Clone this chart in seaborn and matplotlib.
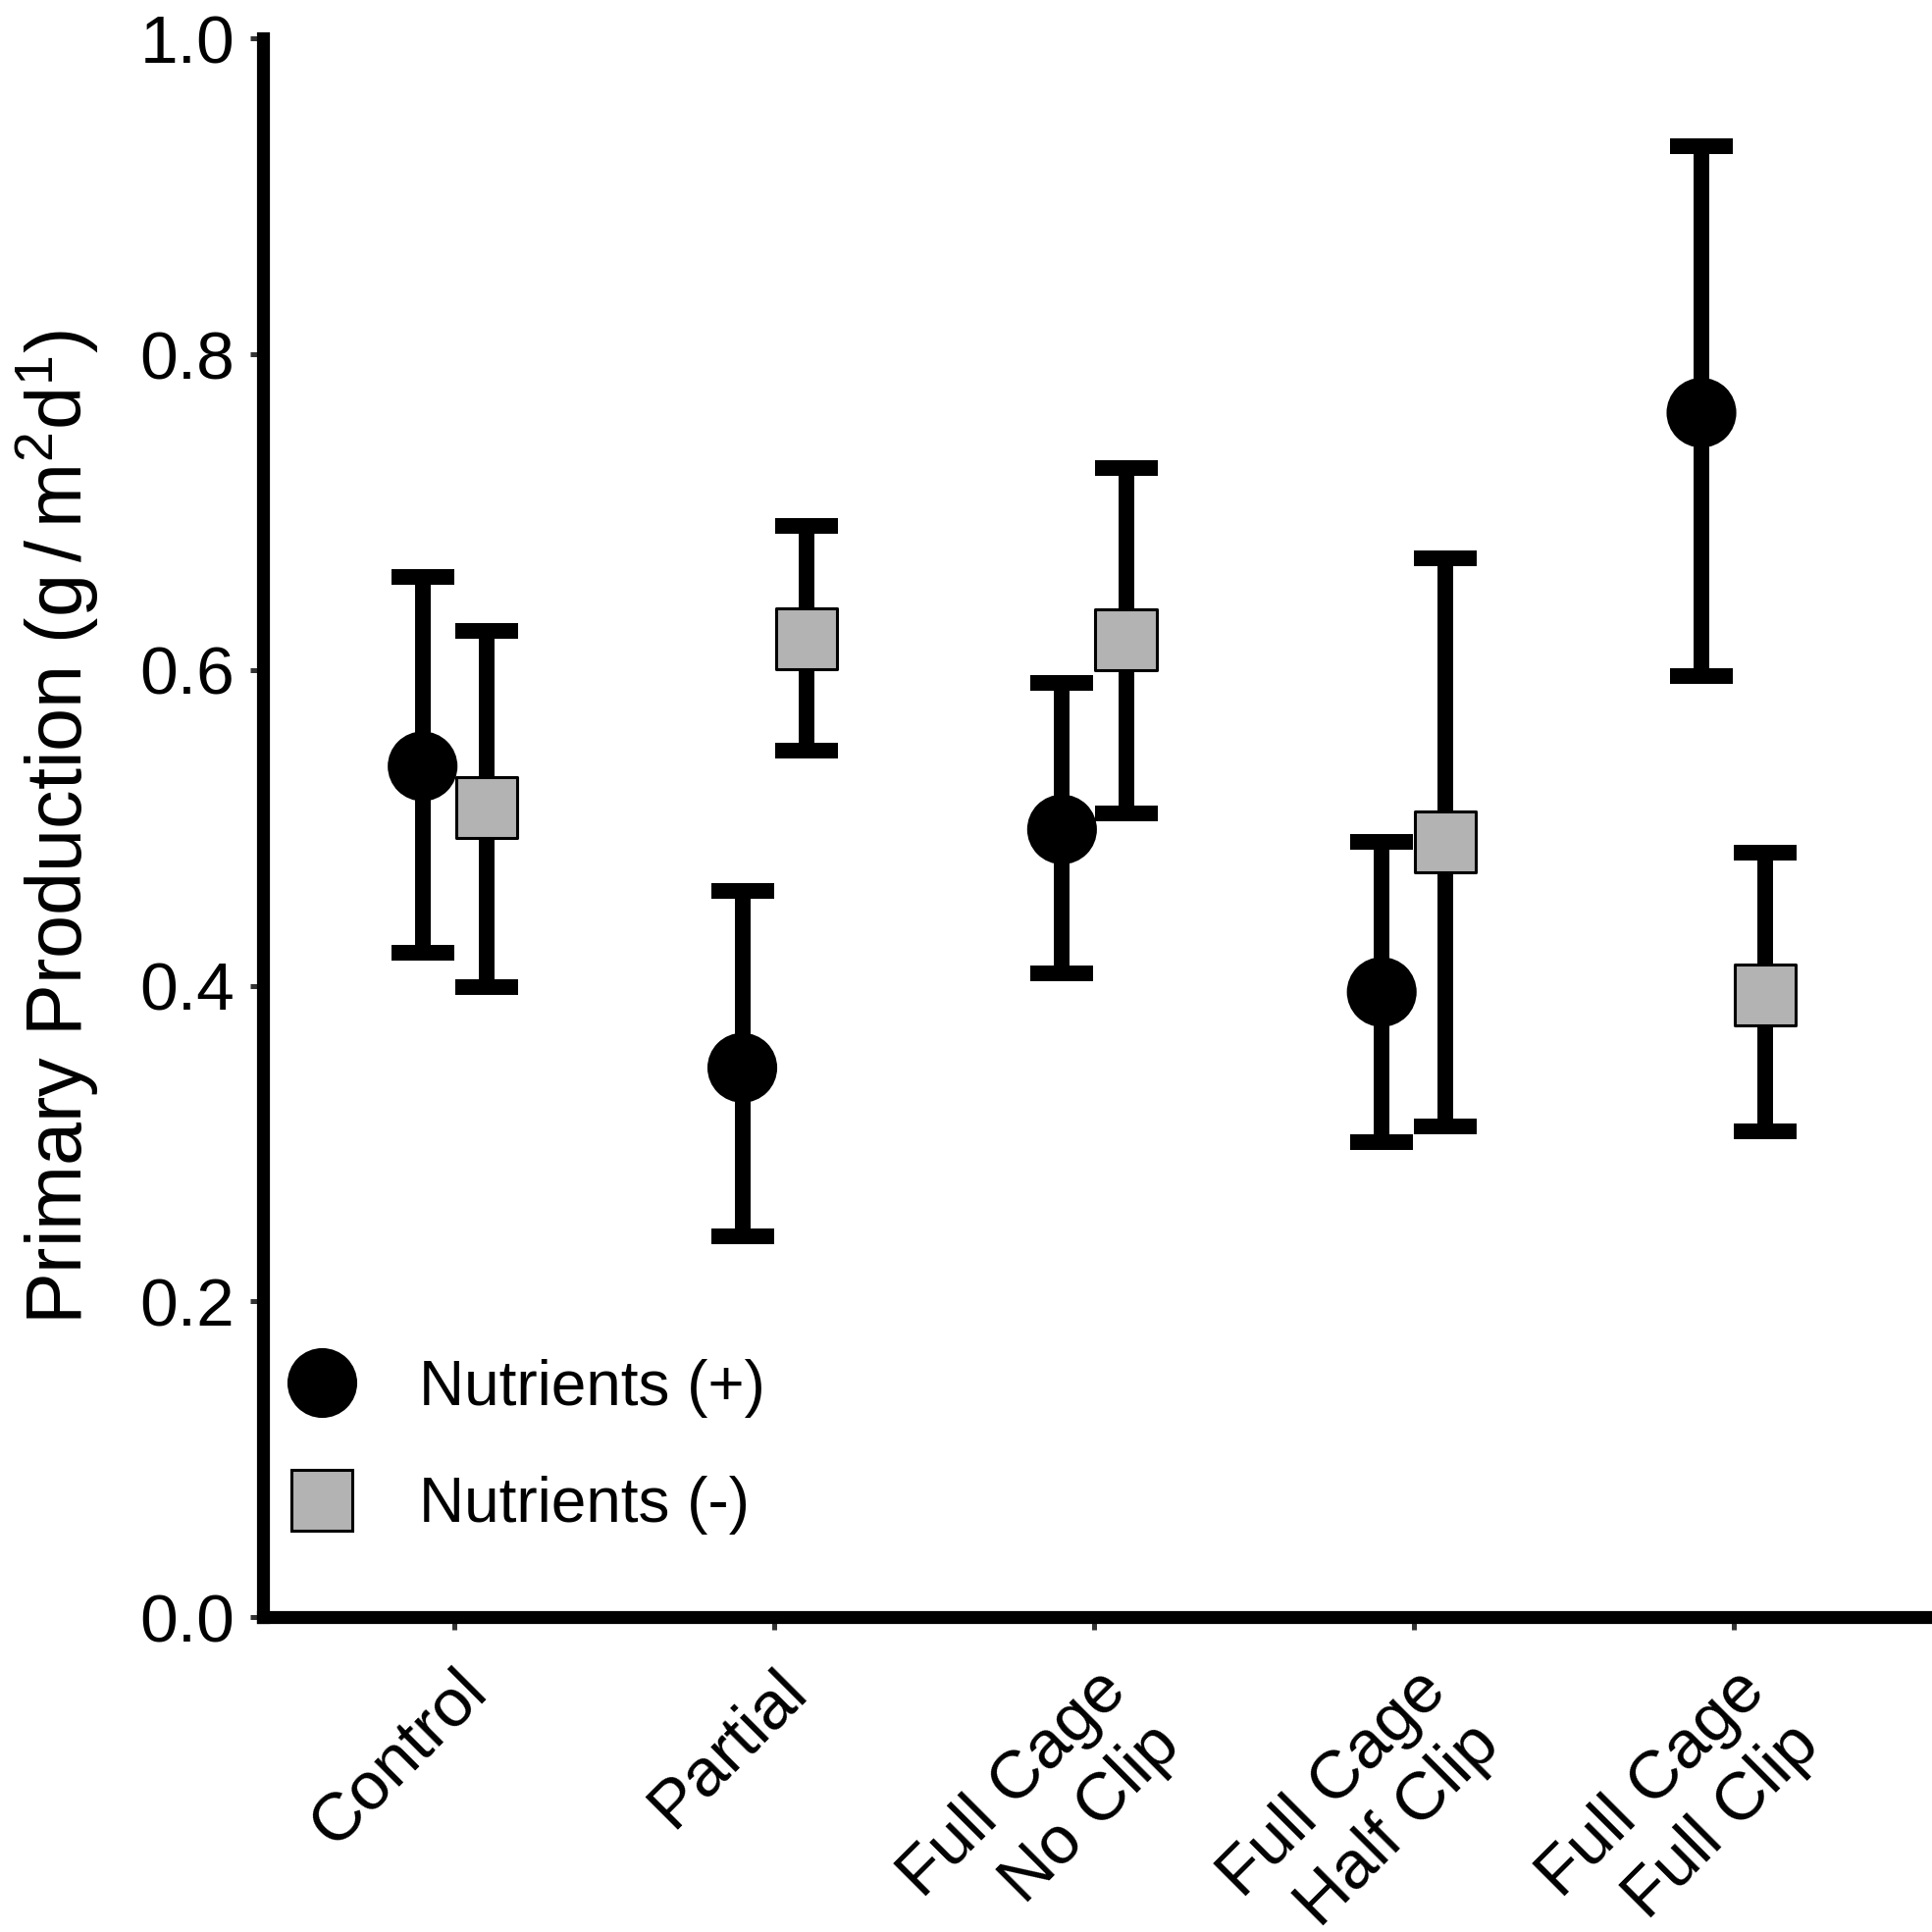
import pandas as pd
import seaborn as sns
import matplotlib.pyplot as plt
from matplotlib import transforms
from matplotlib.lines import Line2D

## data (mean, lower and upper end of error bar)
treatments = ["Control", "Partial", "Full Cage\nNo Clip", "Full Cage\nHalf Clip", "Full Cage\nFull Clip"]
groups = ["Nutrients (+)", "Nutrients (-)"]
plus_mean = [0.539, 0.348, 0.499, 0.396, 0.763]
plus_lo = [0.421, 0.241, 0.408, 0.301, 0.596]
plus_hi = [0.659, 0.460, 0.592, 0.491, 0.932]
minus_mean = [0.513, 0.620, 0.619, 0.491, 0.394]
minus_lo = [0.399, 0.549, 0.509, 0.311, 0.308]
minus_hi = [0.625, 0.691, 0.728, 0.671, 0.484]

sns.set_style("ticks")
plt.rcParams["font.family"] = ["Liberation Sans", "DejaVu Sans"]
plt.rcParams["mathtext.default"] = "regular"
plt.rcParams["text.color"] = "black"
plt.rcParams["axes.labelcolor"] = "black"

df = pd.DataFrame({
    "treatment": treatments * 2,
    "nutrients": [groups[0]] * 5 + [groups[1]] * 5,
    "mean": plus_mean + minus_mean,
    "lo": plus_lo + minus_lo,
    "hi": plus_hi + minus_hi,
})
dodge = {groups[0]: -0.1, groups[1]: 0.1}
df["x"] = df["treatment"].map({t: i for i, t in enumerate(treatments)}) + df["nutrients"].map(dodge)

colors = {groups[0]: "black", groups[1]: "#B3B3B3"}
markers = {groups[0]: "o", groups[1]: "s"}
sizes = {groups[0]: 2400, groups[1]: 2000}

fig = plt.figure(figsize=(19.69, 19.69), dpi=100)
ax = fig.add_axes([0.136, 0.163, 0.8605, 0.817])

ax.errorbar(df["x"], df["mean"], yerr=[df["mean"] - df["lo"], df["hi"] - df["mean"]],
            fmt="none", ecolor="black", elinewidth=11.5, capsize=23, capthick=11.5, zorder=2)
sns.scatterplot(data=df, x="x", y="mean", hue="nutrients", style="nutrients", size="nutrients",
                hue_order=groups, palette=colors, markers=markers, sizes=sizes,
                edgecolor="black", linewidth=2.2, legend=False, ax=ax, zorder=3)

ax.set_xlim(-0.6, 4.6)
ax.set_ylim(0, 1)
ax.set_yticks([0, 0.2, 0.4, 0.6, 0.8, 1.0])
ax.set_yticklabels(["0.0", "0.2", "0.4", "0.6", "0.8", "1.0"])
ax.set_xticks(range(len(treatments)))
ax.set_xticklabels(treatments, rotation=45, ha="right", va="top", rotation_mode="anchor",
                   multialignment="right", linespacing=1.27)
# two-line labels sit a little lower/right, like in the original
for lab in ax.get_xticklabels():
    if "\n" in lab.get_text():
        dx, dy = 21, -10
    else:
        dx, dy = -4, 0
    lab.set_transform(lab.get_transform() + transforms.ScaledTranslation(dx / 100, dy / 100, fig.dpi_scale_trans))

ax.set_xlabel("")
ax.set_ylabel("Primary Production (g$\\,$/$\\,$m$^2$d$^1$)", fontsize=57)
ax.yaxis.set_label_coords(-0.097, 0.5)

ax.tick_params(axis="both", labelsize=50, length=9.5, width=3.6, color="#333333", labelcolor="black")
ax.tick_params(axis="y", pad=11)
ax.tick_params(axis="x", pad=21)
for s in ["top", "right"]:
    ax.spines[s].set_visible(False)
for s in ["left", "bottom"]:
    ax.spines[s].set_linewidth(9.5)
    ax.spines[s].set_color("black")

handles = [Line2D([], [], ls="none", marker=markers[g], markersize=sizes[g] ** 0.5,
                  markerfacecolor=colors[g], markeredgecolor="black", markeredgewidth=2.2)
           for g in groups]
ax.legend(handles, groups, loc="center left", bbox_to_anchor=(0.0165, 0.108), frameon=False,
          fontsize=46, handlelength=1.0, handletextpad=1.06, labelspacing=0.93, borderpad=0,
          borderaxespad=0, labelcolor="black")

fig.savefig("out.png", dpi=100)
